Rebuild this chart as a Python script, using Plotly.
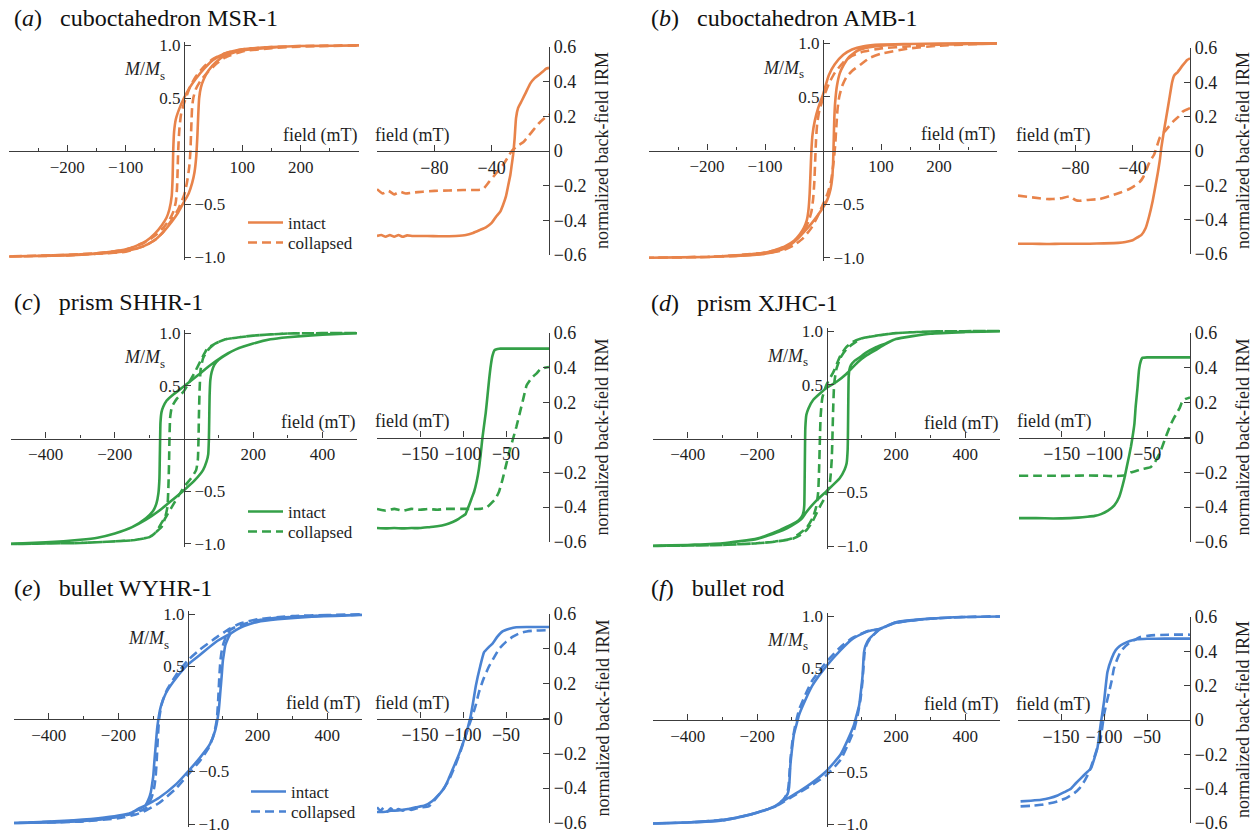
import plotly.graph_objects as go

# ---------------- colours ----------------
ORANGE = "#E8834A"
GREEN = "#34A048"
BLUE = "#4A83D3"

# ---------------- hysteresis data (field mT, M/Ms) ----------------
# (a) cuboctahedron MSR-1
A_INT_DESC_H = [300, 200, 150, 100, 70, 50, 35, 20, 10, 0, -8, -14, -17, -18.5, -19.5, -21, -25, -30, -38, -50, -65, -80, -100, -150, -200, -300]
A_INT_DESC_M = [0.995, 0.99, 0.98, 0.96, 0.92, 0.86, 0.78, 0.68, 0.6, 0.5, 0.4, 0.3, 0.18, 0.0, -0.25, -0.42, -0.55, -0.63, -0.7, -0.78, -0.85, -0.89, -0.93, -0.965, -0.98, -0.995]
A_INT_ASC_H = [-300, -200, -150, -100, -70, -50, -35, -20, -10, 0, 8, 14, 18, 21, 23, 24.5, 26, 29, 34, 42, 55, 70, 100, 150, 200, 300]
A_INT_ASC_M = [-0.995, -0.985, -0.97, -0.945, -0.9, -0.84, -0.76, -0.66, -0.58, -0.48, -0.4, -0.3, -0.2, -0.05, 0.15, 0.35, 0.5, 0.6, 0.68, 0.76, 0.84, 0.9, 0.95, 0.975, 0.99, 0.995]
A_COL_DESC_H = [300, 200, 150, 100, 70, 50, 35, 20, 10, 0, -5, -8, -10, -11, -12, -14, -18, -25, -35, -50, -70, -100, -150, -200, -300]
A_COL_DESC_M = [0.995, 0.99, 0.98, 0.96, 0.92, 0.87, 0.8, 0.7, 0.6, 0.45, 0.35, 0.2, 0.0, -0.2, -0.35, -0.48, -0.57, -0.65, -0.72, -0.8, -0.87, -0.93, -0.965, -0.98, -0.995]
A_COL_ASC_H = [-300, -200, -150, -100, -70, -50, -35, -20, -10, 0, 5, 9, 11, 12, 13, 14, 16, 20, 28, 40, 55, 70, 100, 150, 200, 300]
A_COL_ASC_M = [-0.995, -0.985, -0.97, -0.95, -0.9, -0.84, -0.76, -0.64, -0.55, -0.42, -0.3, -0.15, 0.0, 0.15, 0.3, 0.42, 0.5, 0.58, 0.66, 0.74, 0.82, 0.88, 0.94, 0.97, 0.985, 0.995]

# (b) cuboctahedron AMB-1
B_INT_DESC_H = [300, 200, 150, 100, 70, 50, 35, 20, 10, 0, -8, -14, -18, -20, -21.5, -23, -25, -28, -33, -40, -50, -65, -80, -100, -150, -200, -300]
B_INT_DESC_M = [0.998, 0.995, 0.99, 0.985, 0.97, 0.94, 0.89, 0.8, 0.7, 0.52, 0.4, 0.28, 0.15, 0.0, -0.2, -0.4, -0.55, -0.65, -0.72, -0.78, -0.84, -0.89, -0.92, -0.95, -0.975, -0.99, -0.998]
B_INT_ASC_H = [-300, -200, -150, -100, -70, -50, -35, -20, -10, 0, 8, 13, 16, 17.5, 18.5, 19.5, 21, 24, 29, 36, 45, 60, 80, 100, 150, 200, 300]
B_INT_ASC_M = [-0.998, -0.99, -0.98, -0.96, -0.92, -0.85, -0.77, -0.68, -0.61, -0.53, -0.45, -0.36, -0.25, -0.1, 0.1, 0.3, 0.45, 0.6, 0.72, 0.8, 0.87, 0.93, 0.96, 0.975, 0.99, 0.995, 0.998]
B_COL_DESC_H = [300, 200, 150, 100, 70, 50, 35, 20, 10, 0, -6, -10, -12, -13.5, -15, -17, -20, -25, -32, -40, -55, -70, -100, -150, -200, -300]
B_COL_DESC_M = [0.995, 0.985, 0.97, 0.95, 0.92, 0.88, 0.82, 0.72, 0.62, 0.48, 0.38, 0.25, 0.1, -0.1, -0.3, -0.45, -0.57, -0.66, -0.74, -0.8, -0.87, -0.91, -0.95, -0.975, -0.99, -0.998]
B_COL_ASC_H = [-300, -200, -150, -100, -70, -50, -35, -20, -10, 0, 8, 14, 18, 21, 23, 25, 28, 33, 40, 50, 65, 80, 100, 150, 200, 300]
B_COL_ASC_M = [-0.998, -0.99, -0.98, -0.96, -0.93, -0.88, -0.82, -0.72, -0.62, -0.5, -0.4, -0.28, -0.12, 0.05, 0.22, 0.38, 0.5, 0.6, 0.68, 0.74, 0.8, 0.86, 0.9, 0.95, 0.975, 0.995]

# (c) prism SHHR-1
C_INT_DESC_H = [500, 400, 300, 250, 200, 150, 110, 70, 40, 0, -30, -50, -60, -65, -68, -69, -70, -71, -74, -80, -90, -110, -150, -200, -250, -300, -400, -500]
C_INT_DESC_M = [0.998, 0.985, 0.96, 0.94, 0.9, 0.845, 0.775, 0.68, 0.6, 0.495, 0.42, 0.36, 0.3, 0.25, 0.15, 0.0, -0.2, -0.38, -0.52, -0.62, -0.69, -0.755, -0.84, -0.9, -0.94, -0.96, -0.985, -0.998]
C_INT_ASC_H = [-500, -400, -300, -250, -200, -150, -110, -70, -40, 0, 30, 55, 65, 70, 72, 73, 74, 76, 80, 88, 100, 115, 150, 200, 250, 300, 400, 500]
C_INT_ASC_M = [-0.998, -0.985, -0.96, -0.94, -0.9, -0.84, -0.77, -0.68, -0.6, -0.49, -0.4, -0.3, -0.22, -0.15, 0.0, 0.2, 0.4, 0.55, 0.63, 0.7, 0.745, 0.78, 0.845, 0.9, 0.94, 0.96, 0.985, 0.998]
C_COL_DESC_H = [500, 300, 200, 120, 90, 75, 65, 50, 30, 0, -20, -35, -40, -42, -43, -45, -48, -55, -65, -75, -85, -100, -150, -200, -300, -500]
C_COL_DESC_M = [1.0, 0.995, 0.975, 0.94, 0.9, 0.87, 0.84, 0.75, 0.62, 0.45, 0.38, 0.3, 0.2, 0.0, -0.2, -0.45, -0.65, -0.75, -0.8, -0.86, -0.9, -0.935, -0.965, -0.975, -0.99, -1.0]
C_COL_ASC_H = [-500, -300, -200, -150, -100, -85, -75, -65, -55, -48, -30, 0, 20, 35, 40, 42, 43, 45, 48, 55, 65, 75, 90, 120, 200, 300, 500]
C_COL_ASC_M = [-1.0, -0.99, -0.975, -0.965, -0.935, -0.9, -0.87, -0.84, -0.76, -0.72, -0.62, -0.46, -0.38, -0.3, -0.2, 0.0, 0.2, 0.45, 0.65, 0.76, 0.82, 0.86, 0.9, 0.94, 0.975, 0.995, 1.0]

# (d) prism XJHC-1
D_INT_DESC_H = [500, 400, 300, 200, 171, 140, 114, 90, 57, 30, 0, -38, -52, -58, -61, -62, -63, -64, -66, -70, -80, -100, -114, -140, -171, -200, -300, -400, -500]
D_INT_DESC_M = [0.998, 0.99, 0.975, 0.925, 0.88, 0.82, 0.77, 0.71, 0.6, 0.53, 0.47, 0.36, 0.28, 0.22, 0.1, -0.1, -0.4, -0.62, -0.68, -0.72, -0.76, -0.8, -0.82, -0.86, -0.9, -0.93, -0.975, -0.99, -0.998]
D_INT_ASC_H = [-500, -400, -300, -200, -171, -140, -114, -90, -70, -57, -30, 0, 38, 52, 58, 61, 62, 63, 64, 66, 70, 80, 100, 114, 140, 171, 200, 300, 400, 500]
D_INT_ASC_M = [-0.998, -0.99, -0.975, -0.935, -0.905, -0.87, -0.835, -0.79, -0.74, -0.68, -0.58, -0.49, -0.37, -0.29, -0.23, -0.1, 0.1, 0.4, 0.58, 0.64, 0.68, 0.72, 0.765, 0.8, 0.845, 0.885, 0.925, 0.975, 0.99, 0.998]
D_COL_DESC_H = [500, 300, 200, 150, 100, 76, 57, 40, 20, 0, -12, -17, -19, -21, -24, -30, -40, -57, -76, -100, -150, -200, -300, -500]
D_COL_DESC_M = [1.0, 0.995, 0.98, 0.96, 0.93, 0.9, 0.85, 0.77, 0.62, 0.5, 0.38, 0.2, 0.0, -0.25, -0.5, -0.64, -0.74, -0.83, -0.88, -0.93, -0.96, -0.975, -0.99, -1.0]
D_COL_ASC_H = [-500, -300, -200, -150, -100, -76, -57, -40, -20, 0, 10, 15, 17, 19, 22, 28, 40, 57, 76, 100, 150, 200, 300, 500]
D_COL_ASC_M = [-1.0, -0.99, -0.975, -0.96, -0.935, -0.9, -0.85, -0.77, -0.64, -0.52, -0.4, -0.2, 0.0, 0.25, 0.5, 0.64, 0.75, 0.83, 0.88, 0.93, 0.96, 0.98, 0.995, 1.0]

# (e) bullet WYHR-1
E_INT_DESC_H = [500, 400, 300, 200, 150, 120, 83, 34, 0, -34, -63, -78, -88, -93, -97, -100, -104, -107, -114, -122, -140, -161, -200, -258, -356, -500]
E_INT_DESC_M = [0.99, 0.985, 0.97, 0.93, 0.87, 0.81, 0.74, 0.61, 0.52, 0.39, 0.25, 0.12, -0.07, -0.26, -0.42, -0.55, -0.64, -0.7, -0.77, -0.82, -0.85, -0.89, -0.92, -0.945, -0.97, -0.99]
E_INT_ASC_H = [-500, -400, -300, -200, -150, -120, -83, -34, 0, 34, 63, 78, 88, 93, 97, 100, 104, 107, 114, 122, 140, 161, 200, 258, 356, 500]
E_INT_ASC_M = [-0.99, -0.985, -0.97, -0.93, -0.875, -0.82, -0.75, -0.62, -0.5, -0.37, -0.24, -0.11, 0.07, 0.26, 0.42, 0.55, 0.64, 0.7, 0.76, 0.81, 0.85, 0.885, 0.925, 0.95, 0.975, 0.99]
E_COL_DESC_H = [500, 400, 300, 200, 150, 120, 83, 34, 0, -34, -60, -75, -83, -87, -90, -93, -97, -102, -110, -122, -140, -161, -200, -258, -356, -500]
E_COL_DESC_M = [0.995, 0.99, 0.98, 0.95, 0.91, 0.86, 0.78, 0.66, 0.56, 0.42, 0.28, 0.15, 0.0, -0.2, -0.4, -0.55, -0.65, -0.72, -0.79, -0.85, -0.88, -0.905, -0.93, -0.955, -0.975, -0.99]
E_COL_ASC_H = [-500, -400, -300, -200, -150, -120, -83, -34, 0, 34, 60, 75, 83, 87, 90, 93, 97, 102, 110, 122, 140, 161, 200, 258, 356, 500]
E_COL_ASC_M = [-0.99, -0.985, -0.975, -0.945, -0.91, -0.87, -0.8, -0.66, -0.53, -0.4, -0.27, -0.14, 0.0, 0.2, 0.4, 0.55, 0.65, 0.72, 0.79, 0.85, 0.88, 0.905, 0.94, 0.965, 0.98, 0.995]

# (f) bullet rod
F_INT_DESC_H = [500, 400, 300, 200, 153, 120, 75, 40, 0, -41, -60, -79, -87, -94, -100, -104, -106, -108, -112, -123, -147, -180, -215, -260, -312, -400, -500]
F_INT_DESC_M = [0.995, 0.99, 0.975, 0.94, 0.875, 0.855, 0.78, 0.67, 0.52, 0.33, 0.2, 0.05, -0.05, -0.14, -0.3, -0.43, -0.55, -0.65, -0.71, -0.76, -0.825, -0.87, -0.905, -0.94, -0.965, -0.985, -0.995]
F_INT_ASC_H = [-500, -400, -300, -215, -180, -147, -123, -100, -75, -40, 0, 41, 60, 79, 87, 94, 100, 104, 106, 108, 112, 123, 153, 200, 300, 400, 500]
F_INT_ASC_M = [-0.995, -0.985, -0.965, -0.905, -0.87, -0.825, -0.775, -0.73, -0.68, -0.6, -0.49, -0.33, -0.2, -0.05, 0.05, 0.14, 0.3, 0.43, 0.55, 0.65, 0.71, 0.78, 0.87, 0.935, 0.975, 0.99, 0.995]
F_COL_DESC_H = [500, 400, 300, 200, 153, 120, 75, 40, 0, -41, -60, -79, -90, -98, -103, -106, -108, -110, -114, -125, -147, -180, -215, -260, -312, -400, -500]
F_COL_DESC_M = [0.995, 0.99, 0.975, 0.94, 0.875, 0.855, 0.79, 0.7, 0.56, 0.38, 0.25, 0.1, -0.05, -0.2, -0.35, -0.48, -0.58, -0.65, -0.71, -0.77, -0.83, -0.87, -0.905, -0.94, -0.965, -0.985, -0.995]
F_COL_ASC_H = [-500, -400, -300, -215, -180, -147, -125, -100, -75, -40, 0, 41, 60, 79, 90, 98, 103, 106, 108, 110, 114, 125, 153, 200, 300, 400, 500]
F_COL_ASC_M = [-0.995, -0.985, -0.965, -0.905, -0.87, -0.83, -0.79, -0.74, -0.69, -0.62, -0.53, -0.38, -0.25, -0.1, 0.05, 0.2, 0.35, 0.48, 0.58, 0.65, 0.71, 0.78, 0.87, 0.935, 0.975, 0.99, 0.995]

# ---------------- back-field IRM data (field mT, normalized IRM) ----------------
A_BF_INT_H = [-120, -117, -114, -111, -108, -105, -102, -99, -95, -85, -75, -65, -58, -53, -48, -44, -40, -37, -34, -32, -30, -28.5, -27, -26, -25, -24, -23, -21.5, -19, -16, -13, -10, -7, -4, -2, 0]
A_BF_INT_M = [-0.49, -0.485, -0.495, -0.485, -0.495, -0.485, -0.495, -0.487, -0.49, -0.49, -0.492, -0.49, -0.485, -0.473, -0.455, -0.44, -0.415, -0.38, -0.35, -0.31, -0.26, -0.2, -0.14, -0.08, -0.02, 0.07, 0.19, 0.25, 0.29, 0.34, 0.39, 0.42, 0.44, 0.46, 0.475, 0.48]
A_BF_COL_H = [-120, -116, -112, -108, -104, -100, -95, -88, -80, -70, -60, -50, -46, -42, -39, -35, -32, -29, -26, -22, -18, -14, -11, -7, -3, 0]
A_BF_COL_M = [-0.22, -0.245, -0.23, -0.25, -0.235, -0.245, -0.24, -0.235, -0.23, -0.228, -0.225, -0.225, -0.22, -0.18, -0.15, -0.11, -0.08, -0.04, 0.0, 0.03, 0.05, 0.09, 0.12, 0.16, 0.19, 0.21]

B_BF_INT_H = [-120, -110, -100, -90, -80, -70, -60, -50, -45, -40, -37, -34, -31, -28.5, -26, -24, -22.5, -21, -20, -18.5, -16.7, -14.5, -12.5, -11, -8.6, -5, -2, 0]
B_BF_INT_M = [-0.54, -0.54, -0.542, -0.54, -0.54, -0.54, -0.538, -0.535, -0.53, -0.52, -0.505, -0.49, -0.45, -0.38, -0.29, -0.2, -0.13, -0.05, 0.02, 0.1, 0.19, 0.3, 0.4, 0.44, 0.46, 0.5, 0.53, 0.54]
B_BF_COL_H = [-120, -110, -100, -96, -90, -84, -80, -77, -72, -63, -55, -48, -42, -38, -35, -32.5, -30, -28, -25, -23, -21, -17, -12, -8, -5, 0]
B_BF_COL_M = [-0.26, -0.27, -0.28, -0.28, -0.275, -0.265, -0.285, -0.29, -0.285, -0.28, -0.26, -0.24, -0.22, -0.2, -0.18, -0.15, -0.1, -0.06, -0.02, 0.03, 0.08, 0.12, 0.17, 0.2, 0.23, 0.25]

C_BF_INT_H = [-200, -190, -180, -170, -160, -150, -140, -130, -120, -112, -105, -100, -97, -95, -93, -90, -87, -84, -81.5, -79.5, -77.6, -75.5, -73.6, -71.5, -69.7, -67.5, -65.7, -63.5, -61.8, -58, -54, -40, -20, 0]
C_BF_INT_M = [-0.52, -0.522, -0.52, -0.522, -0.52, -0.52, -0.515, -0.51, -0.5, -0.485, -0.467, -0.45, -0.44, -0.415, -0.39, -0.35, -0.31, -0.25, -0.18, -0.1, -0.01, 0.07, 0.14, 0.24, 0.33, 0.42, 0.47, 0.5, 0.505, 0.51, 0.51, 0.51, 0.51, 0.51]
C_BF_COL_H = [-200, -190, -180, -170, -160, -150, -140, -130, -120, -110, -100, -90, -80, -72, -65.7, -62, -58, -54, -50, -46, -42, -38, -34, -30, -26, -22, -18.5, -14, -10.6, -5, 0]
C_BF_COL_M = [-0.41, -0.42, -0.41, -0.42, -0.41, -0.415, -0.41, -0.415, -0.41, -0.41, -0.41, -0.41, -0.41, -0.4, -0.37, -0.35, -0.31, -0.24, -0.16, -0.08, -0.01, 0.06, 0.14, 0.22, 0.3, 0.33, 0.35, 0.37, 0.39, 0.4, 0.405]

D_BF_INT_H = [-200, -180, -160, -140, -131, -120, -111.5, -104, -96, -88.5, -82.7, -77, -74, -71, -69, -67, -65, -63.5, -61.5, -59.6, -57.5, -55.8, -50, -30, -10, 0]
D_BF_INT_M = [-0.463, -0.463, -0.465, -0.463, -0.46, -0.455, -0.45, -0.44, -0.42, -0.39, -0.34, -0.24, -0.17, -0.1, -0.05, 0.01, 0.08, 0.18, 0.28, 0.39, 0.44, 0.457, 0.46, 0.46, 0.46, 0.46]
D_BF_COL_H = [-200, -180, -160, -140, -120, -100, -90, -80.8, -75, -69, -65, -61.5, -55, -46, -42, -38.5, -34.5, -30.8, -27, -23, -19, -15.4, -12, -9.6, -5.8, 0]
D_BF_COL_M = [-0.22, -0.22, -0.22, -0.22, -0.218, -0.22, -0.222, -0.22, -0.215, -0.2, -0.195, -0.19, -0.18, -0.17, -0.15, -0.12, -0.08, -0.03, 0.02, 0.07, 0.11, 0.14, 0.17, 0.2, 0.22, 0.23]

E_BF_INT_H = [-200, -190, -184, -175, -164, -155, -144.5, -136, -128.7, -122, -117, -111, -105, -101, -97, -94, -91, -88, -85, -80, -75.6, -70, -65.7, -60, -54, -46, -38, -25, 0]
E_BF_INT_M = [-0.537, -0.535, -0.53, -0.528, -0.52, -0.51, -0.5, -0.475, -0.44, -0.4, -0.35, -0.28, -0.21, -0.155, -0.1, -0.045, 0.015, 0.1, 0.19, 0.3, 0.38, 0.41, 0.43, 0.47, 0.5, 0.515, 0.524, 0.525, 0.525]
E_BF_COL_H = [-200, -196, -192, -188, -184, -180, -175, -170, -165, -160, -150, -140, -125, -117, -109, -103, -97, -93, -89, -85, -81.5, -76, -69.7, -64, -58, -50, -42, -34, -26, -15, 0]
E_BF_COL_M = [-0.51, -0.53, -0.51, -0.535, -0.515, -0.535, -0.52, -0.53, -0.515, -0.525, -0.51, -0.505, -0.42, -0.36, -0.27, -0.19, -0.1, -0.04, 0.015, 0.08, 0.15, 0.23, 0.3, 0.35, 0.4, 0.44, 0.47, 0.49, 0.5, 0.505, 0.507]

F_BF_INT_H = [-197, -185, -173, -163, -154, -146, -138.5, -133, -127, -121, -115, -111, -107.7, -104, -100, -96, -91, -86.5, -82, -77, -70, -61.5, -50, -30, 0]
F_BF_INT_M = [-0.474, -0.47, -0.465, -0.455, -0.44, -0.42, -0.4, -0.37, -0.34, -0.31, -0.28, -0.22, -0.165, -0.03, 0.106, 0.28, 0.36, 0.406, 0.43, 0.445, 0.46, 0.47, 0.473, 0.474, 0.474]
F_BF_COL_H = [-197, -185, -173, -163, -154, -144, -134.6, -128, -123, -117, -111.5, -107, -104, -100, -97, -94, -91, -88.5, -85, -80.8, -75, -69, -63, -57.7, -45, -25, 0]
F_BF_COL_M = [-0.503, -0.5, -0.494, -0.485, -0.474, -0.455, -0.426, -0.395, -0.358, -0.3, -0.22, -0.15, -0.11, 0.03, 0.1, 0.165, 0.23, 0.3, 0.35, 0.397, 0.43, 0.455, 0.47, 0.484, 0.493, 0.497, 0.497]

# ---------------- text ----------------
PANEL_LETTERS = ["a", "b", "c", "d", "e", "f"]
PANEL_NAMES = ["cuboctahedron MSR-1", "cuboctahedron AMB-1", "prism SHHR-1",
               "prism XJHC-1", "bullet WYHR-1", "bullet rod"]
SERIES_NAMES = ["intact", "collapsed"]
COLORS = [ORANGE, ORANGE, GREEN, GREEN, BLUE, BLUE]

HYST = [
    (A_INT_DESC_H, A_INT_DESC_M, A_INT_ASC_H, A_INT_ASC_M, A_COL_DESC_H, A_COL_DESC_M, A_COL_ASC_H, A_COL_ASC_M),
    (B_INT_DESC_H, B_INT_DESC_M, B_INT_ASC_H, B_INT_ASC_M, B_COL_DESC_H, B_COL_DESC_M, B_COL_ASC_H, B_COL_ASC_M),
    (C_INT_DESC_H, C_INT_DESC_M, C_INT_ASC_H, C_INT_ASC_M, C_COL_DESC_H, C_COL_DESC_M, C_COL_ASC_H, C_COL_ASC_M),
    (D_INT_DESC_H, D_INT_DESC_M, D_INT_ASC_H, D_INT_ASC_M, D_COL_DESC_H, D_COL_DESC_M, D_COL_ASC_H, D_COL_ASC_M),
    (E_INT_DESC_H, E_INT_DESC_M, E_INT_ASC_H, E_INT_ASC_M, E_COL_DESC_H, E_COL_DESC_M, E_COL_ASC_H, E_COL_ASC_M),
    (F_INT_DESC_H, F_INT_DESC_M, F_INT_ASC_H, F_INT_ASC_M, F_COL_DESC_H, F_COL_DESC_M, F_COL_ASC_H, F_COL_ASC_M),
]
BACK = [
    (A_BF_INT_H, A_BF_INT_M, A_BF_COL_H, A_BF_COL_M),
    (B_BF_INT_H, B_BF_INT_M, B_BF_COL_H, B_BF_COL_M),
    (C_BF_INT_H, C_BF_INT_M, C_BF_COL_H, C_BF_COL_M),
    (D_BF_INT_H, D_BF_INT_M, D_BF_COL_H, D_BF_COL_M),
    (E_BF_INT_H, E_BF_INT_M, E_BF_COL_H, E_BF_COL_M),
    (F_BF_INT_H, F_BF_INT_M, F_BF_COL_H, F_BF_COL_M),
]

# ---------------- layout geometry (pixels) ----------------
W, H = 1259, 834
FONT = "Liberation Serif"
AXC = "#3c3c3c"
TXC = "#1e1e1e"
LW = 2.6
DASH = "9px,5px"

# x0, x1, y(+1.0), y(-1.0), |x range|
HYST_GEOM = [(9, 359, 45, 257, 300), (649, 997, 43, 258, 300),
             (11, 357, 333, 544, 500), (653, 1000, 331, 546, 500),
             (14, 362, 614, 824, 500), (653, 1000, 616, 824, 500)]
# x0, x1, y(+0.6), y(-0.6), |x range|
BACK_GEOM = [(377, 549, 47, 255, 120), (1018, 1190, 48, 254, 120),
             (377, 549, 333, 542, 200), (1019, 1190, 333, 542, 200),
             (377, 549, 614, 823, 200), (1018, 1190, 617, 823, 200)]
TITLE_POS = [(12, 18), (649, 18), (12, 302), (649, 303), (12, 588), (649, 588)]
IRM_X = [602, 1243, 602, 1243, 602, 1243]
# legend entries: (left x, centre y of "intact", centre y of "collapsed")
LEGEND_POS = {0: (243, 223, 243), 2: (243, 512, 532), 4: (246, 792, 812)}
LEGEND_IDS = {0: ("legend", "legend2"), 2: ("legend3", "legend4"), 4: ("legend5", "legend6")}

fig = go.Figure()
layout = {}
annotations = []

def axname(n, letter):
    return letter if n == 1 else f"{letter}{n}"

PAD = 0.03
for i in range(6):
    color = COLORS[i]
    # ---------- hysteresis subplot ----------
    xn, yn = 2 * i + 1, 2 * i + 1
    yneg = 13 + i
    x0, x1, yt, yb, xr = HYST_GEOM[i]
    ppu = (yb - yt) / 2.0
    top = yt - PAD * ppu
    bot = yb + PAD * ppu
    xdom = [x0 / W, x1 / W]
    ydom = [1 - bot / H, 1 - top / H]
    ymid = (ydom[0] + ydom[1]) / 2
    xmid = (xdom[0] + xdom[1]) / 2
    d = HYST[i]
    legs = LEGEND_IDS.get(i)
    for k, (dash, name) in enumerate([("solid", SERIES_NAMES[0]), (DASH, SERIES_NAMES[1])]):
        hd, md, ha, ma = d[4 * k], d[4 * k + 1], d[4 * k + 2], d[4 * k + 3]
        fig.add_trace(go.Scatter(
            x=list(hd) + list(ha), y=list(md) + list(ma), mode="lines", name=name,
            line=dict(color=color, width=LW, dash=dash, shape="spline", smoothing=0.5),
            xaxis=axname(xn, "x"), yaxis=axname(yn, "y"),
            showlegend=legs is not None, legend=legs[k] if legs else "legend",
            hoverinfo="skip"))
    fig.add_trace(go.Scatter(x=[0], y=[0], mode="markers", marker=dict(opacity=0),
                             xaxis=axname(xn, "x"), yaxis=f"y{yneg}", showlegend=False,
                             hoverinfo="skip"))
    if xr == 300:
        xt, xtt, xmin = [-200, -100, 100, 200], ["−200", "−100", "100", "200"], [-250, -150, -50, 50, 150, 250]
    else:
        xt, xtt, xmin = [-400, -200, 200, 400], ["−400", "−200", "200", "400"], [-300, -100, 100, 300]
    tf = dict(family=FONT, size=17, color=TXC)
    layout["xaxis" + ("" if xn == 1 else str(xn))] = dict(
        domain=xdom, range=[-xr, xr], anchor="free", position=ymid, automargin=False,
        showline=True, linecolor=AXC, linewidth=1.3, ticks="inside", ticklen=6,
        tickwidth=1.2, tickcolor=AXC, tickvals=xt, ticktext=xtt, tickfont=tf,
        ticklabeloverflow="allow",
        minor=dict(tickvals=xmin, ticks="inside", ticklen=3, tickcolor=AXC),
        showgrid=False, zeroline=False, fixedrange=True)
    layout["yaxis" + ("" if yn == 1 else str(yn))] = dict(
        domain=ydom, range=[-1 - PAD, 1 + PAD], anchor="free", position=xmid, side="left",
        automargin=False, showline=True, linecolor=AXC, linewidth=1.3, ticks="inside",
        ticklen=6, tickwidth=1.2, tickcolor=AXC, tickvals=[0.5, 1.0], ticktext=["0.5", "1.0"],
        tickfont=tf, ticklabeloverflow="allow", showgrid=False, zeroline=False,
        fixedrange=True)
    layout[f"yaxis{yneg}"] = dict(
        domain=ydom, range=[-1 - PAD, 1 + PAD], anchor="free", position=xmid, side="right",
        overlaying=axname(yn, "y"), automargin=False, showline=False, ticks="outside",
        ticklen=6, tickwidth=1.2, tickcolor=AXC, tickvals=[-1.0, -0.5],
        ticktext=["−1.0", "−0.5"], tickfont=tf, ticklabeloverflow="allow",
        showgrid=False, zeroline=False, fixedrange=True)
    # y-axis label M/Ms (subscript drawn as its own small text)
    annotations.append(dict(text="<i>M</i>/<i>M</i>", xref=axname(xn, "x"),
                            yref=axname(yn, "y"), x=0, y=0.77, xanchor="right",
                            yanchor="middle", xshift=-21, showarrow=False,
                            font=dict(family=FONT, size=18, color=TXC)))
    annotations.append(dict(text="s", xref=axname(xn, "x"),
                            yref=axname(yn, "y"), x=0, y=0.77, xanchor="left",
                            yanchor="middle", xshift=-26, yshift=-6, showarrow=False,
                            font=dict(family=FONT, size=13, color=TXC)))
    annotations.append(dict(text="field (mT)", xref=axname(xn, "x"), yref=axname(yn, "y"),
                            x=xr, y=0, xanchor="right", yanchor="bottom", yshift=3,
                            showarrow=False, font=dict(family=FONT, size=18, color=TXC)))
    if legs:
        lx, ly1, ly2 = LEGEND_POS[i]
        for lid, ly in zip(legs, (ly1, ly2)):
            layout[lid] = dict(x=lx / W, y=1 - ly / H, xanchor="left", yanchor="middle",
                               bgcolor="rgba(0,0,0,0)", borderwidth=0, itemwidth=35,
                               font=dict(family=FONT, size=17, color=TXC), tracegroupgap=0,
                               itemclick=False, itemdoubleclick=False)

    # ---------- back-field subplot ----------
    xn2 = 2 * i + 2
    bx0, bx1, byt, byb, bxr = BACK_GEOM[i]
    bxdom = [bx0 / W, bx1 / W]
    bydom = [1 - byb / H, 1 - byt / H]
    bymid = (bydom[0] + bydom[1]) / 2
    bd = BACK[i]
    for k, dash in enumerate(["solid", DASH]):
        fig.add_trace(go.Scatter(
            x=bd[2 * k], y=bd[2 * k + 1], mode="lines", name=SERIES_NAMES[k],
            line=dict(color=color, width=LW, dash=dash, shape="spline", smoothing=0.4),
            xaxis=axname(xn2, "x"), yaxis=axname(xn2, "y"), showlegend=False,
            hoverinfo="skip"))
    if bxr == 120:
        bt, btt, bmin = [-80, -40], ["−80", "−40"], [-120]
    else:
        bt, btt, bmin = [-150, -100, -50], ["−150", "−100", "−50"], [-200]
    btf = dict(family=FONT, size=18, color=TXC)
    layout[f"xaxis{xn2}"] = dict(
        domain=bxdom, range=[-bxr, 0], anchor="free", position=bymid, automargin=False,
        showline=True, linecolor=AXC, linewidth=1.3, ticks="inside", ticklen=6,
        tickwidth=1.2, tickcolor=AXC, tickvals=bt, ticktext=btt, tickfont=btf,
        ticklabeloverflow="allow",
        minor=dict(tickvals=bmin, ticks="inside", ticklen=6, tickcolor=AXC),
        showgrid=False, zeroline=False, fixedrange=True)
    layout[f"yaxis{xn2}"] = dict(
        domain=bydom, range=[-0.6, 0.6], anchor="free", position=bxdom[1], side="right",
        automargin=False, showline=True, linecolor=AXC, linewidth=1.3, ticks="inside",
        ticklen=6, tickwidth=1.2, tickcolor=AXC,
        tickvals=[-0.6, -0.4, -0.2, 0, 0.2, 0.4, 0.6],
        ticktext=["−0.6", "−0.4", "−0.2", "0", "0.2", "0.4", "0.6"], tickfont=btf,
        ticklabeloverflow="allow", showgrid=False, zeroline=False, fixedrange=True)
    annotations.append(dict(text="field (mT)", xref=axname(xn2, "x"), yref=axname(xn2, "y"),
                            x=-bxr, y=0, xanchor="left", yanchor="bottom", yshift=3, xshift=-4,
                            showarrow=False, font=dict(family=FONT, size=18, color=TXC)))
    annotations.append(dict(text="normalized back-field IRM", xref="paper", yref="paper",
                            x=IRM_X[i] / W, y=bymid, xanchor="center", yanchor="middle",
                            textangle=-90, showarrow=False,
                            font=dict(family=FONT, size=18, color=TXC)))
    # ---------- title ----------
    tx, ty = TITLE_POS[i]
    annotations.append(dict(text=f"(<i>{PANEL_LETTERS[i]}</i>)\u00a0\u00a0\u00a0{PANEL_NAMES[i]}",
                            xref="paper", yref="paper", x=tx / W, y=1 - ty / H,
                            xanchor="left", yanchor="middle", showarrow=False,
                            font=dict(family=FONT, size=24, color="#111111")))

layout.update(dict(template="none", width=W, height=H,
                   margin=dict(l=0, r=0, t=0, b=0, autoexpand=False),
                   paper_bgcolor="white", plot_bgcolor="white",
                   annotations=annotations, font=dict(family=FONT, color=TXC),
                   hovermode=False))
fig.update_layout(**layout)
fig.write_html("out.html", config={"displayModeBar": False})
